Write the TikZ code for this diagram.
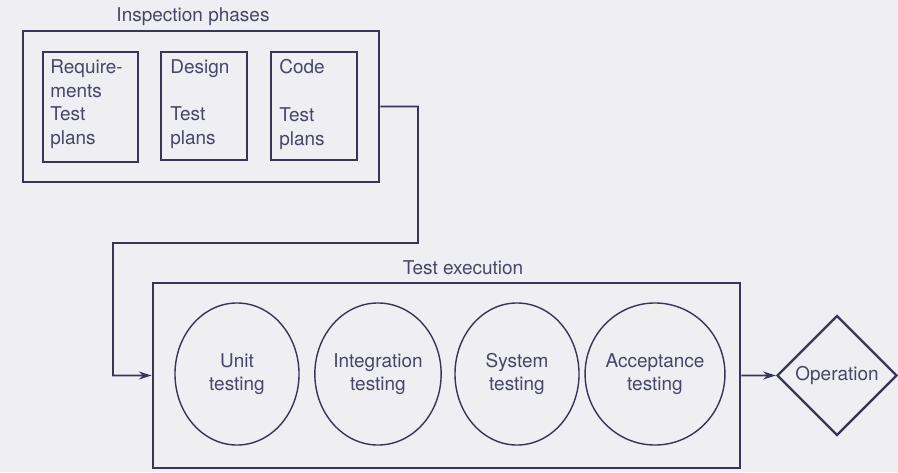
\documentclass[tikz,border=0pt]{standalone}
\usepackage{fontspec}
\setmainfont{TeX Gyre Heros}
\usetikzlibrary{shapes.geometric,arrows.meta,fit,calc}
\definecolor{ink}{RGB}{55,55,85}
\definecolor{txt}{RGB}{70,70,105}
\definecolor{paper}{RGB}{238,238,243}
\begin{document}
\begin{tikzpicture}[x=0.025cm,y=-0.025cm,
  every node/.style={font=\fontsize{13.5}{17}\selectfont, text=txt},
  bigbox/.style={draw=ink, line width=2pt, inner sep=0pt},
  smallbox/.style={draw=ink, line width=1.4pt, inner sep=0pt},
  boxtext/.style={align=left, inner sep=0pt, anchor=north west},
  phase/.style={ellipse, draw=ink, line width=1pt, minimum width=3.1cm, minimum height=3.55cm, align=center, inner sep=0pt, font=\fontsize{13.5}{16}\selectfont},
  conn/.style={draw=ink, line width=1.4pt, -{Stealth[length=0.32cm,width=0.2cm]}}
]
\fill[paper] (0,0) rectangle (898,472);
\useasboundingbox (0,0) rectangle (898,472);

\node (titleA) at (193,17) {Inspection phases};
\node[bigbox, fit={(23,31) (379,182)}] (insp) {};
\node[smallbox, fit={(43,52) (138,162)}] (req) {};
\node[smallbox, fit={(161,52) (247,160)}] (des) {};
\node[smallbox, fit={(271,52) (357,160)}] (cod) {};
\node[boxtext] (reqt) at ($(req.north west)+(8,8)$) {Require-\\ments\\Test\\plans};
\node[boxtext] (dest) at ($(des.north west)+(10,8)$) {Design\\\mbox{}\\Test\\plans};
\node[boxtext] (codt) at ($(cod.north west)+(9,8)$) {Code\\\mbox{}\\Test\\plans};

\node (titleB) at (463,268) {Test execution};
\node[bigbox, fit={(153,283) (740,468)}] (test) {};
\node[phase] (unit) at (237,374) {Unit\\testing};
\node[phase] (integ) at (378,374) {Integration\\testing};
\node[phase] (sys) at (517,374) {System\\testing};
\node[phase] (acc) at (655,374) {Acceptance\\testing};

\node[diamond, draw=ink, line width=1.6pt, minimum width=3cm, minimum height=3cm, inner sep=0pt] (op) at (837,375.5) {Operation};

\coordinate (c1) at (418,243);
\coordinate (c2) at (113,375.5);
\draw[conn] (insp.east) -| (c1) -| (c2) -- (test.west);
\draw[conn] (test.east) -- (op.west);
\end{tikzpicture}
\end{document}
